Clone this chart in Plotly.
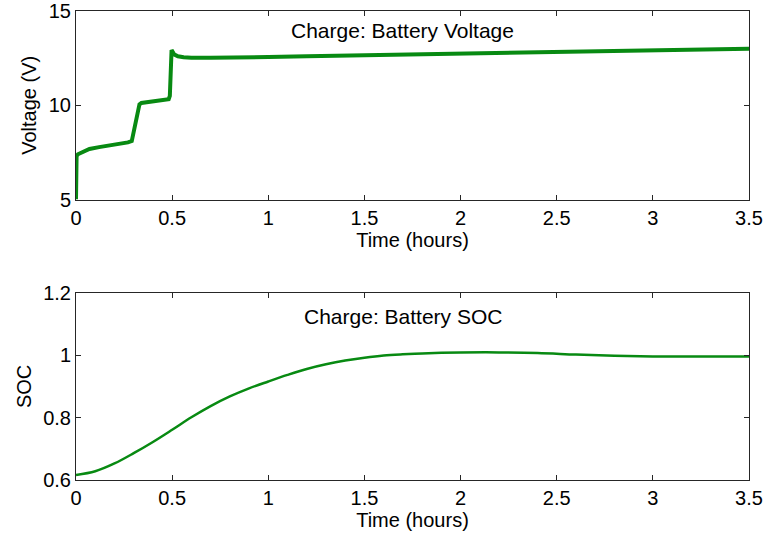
import plotly.graph_objects as go
from plotly.subplots import make_subplots

# Charging test: terminal voltage (V) vs time (hours)
volt_time = [0.0, 0.003, 0.01, 0.03, 0.07, 0.12, 0.18, 0.23, 0.27, 0.29,
             0.30, 0.31, 0.32, 0.33, 0.34, 0.36, 0.40, 0.44, 0.47, 0.482,
             0.488, 0.492, 0.497, 0.51, 0.53, 0.56, 0.60, 0.70, 0.80, 0.90,
             1.0, 1.2, 1.4, 1.6, 1.8, 2.0, 2.2, 2.4, 2.6, 2.8, 3.0, 3.2, 3.4, 3.5]
volt_value = [5.0, 7.3, 7.4, 7.5, 7.68, 7.78, 7.86, 7.95, 8.03, 8.1,
              8.6, 9.3, 9.8, 10.05, 10.12, 10.15, 10.18, 10.22, 10.28, 10.32,
              10.5, 12.4, 12.93, 12.7, 12.6, 12.55, 12.52, 12.52, 12.52, 12.54,
              12.56, 12.6, 12.63, 12.67, 12.7, 12.73, 12.76, 12.8, 12.83, 12.86,
              12.9, 12.94, 12.98, 13.0]

# State of charge vs time (hours)
soc_time = [0.0, 0.1, 0.2, 0.3, 0.4, 0.5, 0.6, 0.7, 0.8, 0.9, 1.0, 1.1, 1.2,
            1.3, 1.4, 1.5, 1.6, 1.7, 1.8, 1.9, 2.0, 2.2, 2.4, 2.6, 2.8, 3.0,
            3.2, 3.5]
soc_value = [0.616, 0.628, 0.653, 0.686, 0.722, 0.761, 0.801, 0.837, 0.868,
             0.894, 0.916, 0.937, 0.956, 0.971, 0.983, 0.992, 0.999, 1.003,
             1.006, 1.008, 1.009, 1.009, 1.007, 1.002, 0.998, 0.996, 0.996,
             0.996]

x_ticks = [0, 0.5, 1, 1.5, 2, 2.5, 3, 3.5]
x_tick_text = ["0", "0.5", "1", "1.5", "2", "2.5", "3", "3.5"]
volt_ticks = [5, 10, 15]
soc_ticks = [0.6, 0.8, 1.0, 1.2]
soc_tick_text = ["0.6", "0.8", "1", "1.2"]

green = "#088a12"
axis_color = "#262626"
font_family = "Liberation Sans, Arial, sans-serif"

fig = make_subplots(rows=2, cols=1, vertical_spacing=0.0)

fig.add_trace(go.Scatter(x=volt_time, y=volt_value, mode="lines",
                         line=dict(color=green, width=4), showlegend=False),
              row=1, col=1)
fig.add_trace(go.Scatter(x=soc_time, y=soc_value, mode="lines",
                         line=dict(color=green, width=2.5, shape="spline"),
                         showlegend=False),
              row=2, col=1)

axis_common = dict(
    showline=True, linecolor=axis_color, linewidth=1, mirror="ticks",
    ticks="inside", ticklen=5, tickcolor=axis_color, showgrid=False,
    zeroline=False, automargin=False,
    tickfont=dict(size=20, color="#000000", family=font_family),
)

fig.update_xaxes(range=[0, 3.5], tickvals=x_ticks, ticktext=x_tick_text,
                 title=dict(text="Time (hours)", standoff=2,
                            font=dict(size=20, color="#000000", family=font_family)),
                 **axis_common)
fig.update_yaxes(**axis_common)

fig.update_yaxes(range=[5, 15], tickvals=volt_ticks,
                 title=dict(text="Voltage (V)", standoff=6,
                            font=dict(size=20, color="#000000", family=font_family)),
                 row=1, col=1)
fig.update_yaxes(range=[0.6, 1.2], tickvals=soc_ticks, ticktext=soc_tick_text,
                 title=dict(text="SOC", standoff=6,
                            font=dict(size=20, color="#000000", family=font_family)),
                 row=2, col=1)

fig.update_layout(
    width=766, height=535,
    margin=dict(l=76, r=17, t=11, b=55),
    paper_bgcolor="white", plot_bgcolor="white",
    font=dict(family=font_family, size=20, color="#000000"),
    yaxis=dict(domain=[0.598, 1.0]),
    yaxis2=dict(domain=[0.0, 0.399]),
    annotations=[
        dict(text="Charge: Battery Voltage", x=0.4844, y=0.959, xref="paper",
             yref="paper", showarrow=False, xanchor="center", yanchor="middle",
             font=dict(size=21, family=font_family, color="#000000")),
        dict(text="Charge: Battery SOC", x=0.4865, y=0.349, xref="paper",
             yref="paper", showarrow=False, xanchor="center", yanchor="middle",
             font=dict(size=21, family=font_family, color="#000000")),
    ],
)

fig.write_html("out.html")
